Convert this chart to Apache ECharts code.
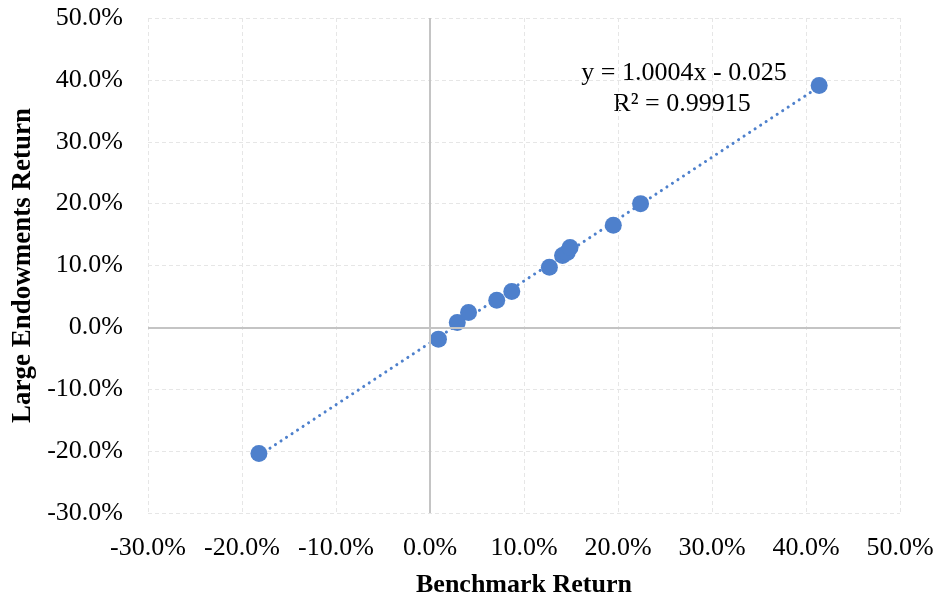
<!DOCTYPE html>
<html>
<head>
<meta charset="utf-8">
<script src="https://cdn.jsdelivr.net/npm/echarts@6/dist/echarts.min.js"></script>
<style>
  html, body { margin: 0; padding: 0; background: #fff; }
  #chart { width: 936px; height: 598px; }
</style>
</head>
<body>
<div id="chart"></div>
<script>
// Benchmark vs Large Endowments returns (%)
const benchmarkReturn = [-18.2, 0.9, 2.9, 4.1, 7.1, 8.7, 12.7, 14.1, 14.6, 14.9, 19.5, 22.4, 41.4];
const endowmentReturn = [-20.4, -1.9, 0.8, 2.4, 4.4, 5.8, 9.7, 11.6, 12.1, 12.9, 16.5, 20.0, 39.1];

// linear trendline ends, as drawn
const trendX = [-18.2, 41.4];
const trendY = [-20.7, 38.9];

const equationText = "y = 1.0004x - 0.025";
const r2Text = "R² = 0.99915";

const FONT = "'Liberation Serif', 'Times New Roman', serif";
const BLUE = "#4e80cc";

const chart = echarts.init(document.getElementById("chart"));

const pct = v => v.toFixed(1) + "%";

chart.setOption({
  animation: false,
  grid: { left: 148, right: 36, top: 18, bottom: 85, containLabel: false, outerBoundsMode: "none" },
  xAxis: {
    type: "value",
    min: -30, max: 50, interval: 10,
    name: "Benchmark Return",
    nameLocation: "middle",
    nameGap: 59,
    nameTextStyle: { fontFamily: FONT, fontSize: 26, fontWeight: "bold", color: "#000" },
    axisLine: { show: false },
    axisTick: { show: false },
    axisLabel: { formatter: pct, fontFamily: FONT, fontSize: 26, color: "#000", margin: 22 },
    splitLine: { show: true, lineStyle: { color: "#e6e6e6", type: [4, 3] } }
  },
  yAxis: {
    type: "value",
    min: -30, max: 50, interval: 10,
    name: "Large Endowments Return",
    nameLocation: "middle",
    nameGap: 101,
    nameTextStyle: { fontFamily: FONT, fontSize: 27, fontWeight: "bold", color: "#000" },
    axisLine: { show: false },
    axisTick: { show: false },
    axisLabel: { formatter: pct, fontFamily: FONT, fontSize: 26, color: "#000", margin: 25 },
    splitLine: { show: true, lineStyle: { color: "#e6e6e6", type: [4, 3] } }
  },
  series: [
    {
      name: "axes",
      type: "line",
      data: [],
      silent: true,
      markLine: {
        silent: true,
        symbol: "none",
        label: { show: false },
        lineStyle: { color: "#c4c4c4", width: 2, type: "solid" },
        data: [{ xAxis: 0 }, { yAxis: 0 }]
      }
    },
    {
      name: "Trend",
      type: "line",
      data: trendX.map((x, i) => [x, trendY[i]]),
      showSymbol: false,
      lineStyle: { color: BLUE, width: 3, type: [0.1, 6.5], cap: "round" },
      z: 2
    },
    {
      name: "Returns",
      type: "scatter",
      data: benchmarkReturn.map((x, i) => [x, endowmentReturn[i]]),
      symbolSize: 17,
      itemStyle: { color: BLUE, opacity: 1 },
      z: 3
    }
  ],
  graphic: [
    {
      type: "text",
      x: 684, y: 73,
      style: { text: equationText, font: "26px " + FONT, fill: "#000", textAlign: "center", textVerticalAlign: "middle" }
    },
    {
      type: "text",
      x: 682, y: 104,
      style: { text: r2Text, font: "26px " + FONT, fill: "#000", textAlign: "center", textVerticalAlign: "middle" }
    }
  ]
});
</script>
</body>
</html>
